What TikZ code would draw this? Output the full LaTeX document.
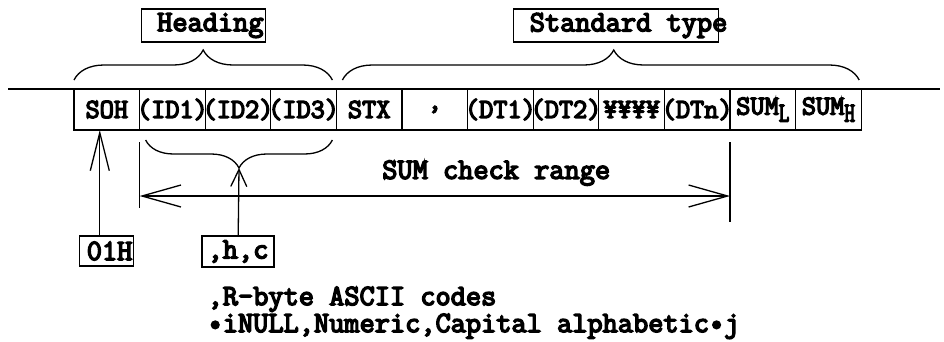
\documentclass[tikz,border=0pt]{standalone}
\usepackage{fontspec}
\newfontfamily\dgfont[FakeBold=5]{Latin Modern Mono}
\usetikzlibrary{arrows.meta, positioning, decorations.pathreplacing}

% cell text may run over the cell walls
\newcommand{\ctext}[1]{\makebox[0pt]{#1}}
\newcommand{\lowsub}[1]{\raisebox{-7pt}{\scalebox{0.75}[1]{#1}}}

\begin{document}
\begin{tikzpicture}[
  x=1pt, y=-1pt, line width=1.3pt,
  cell/.style={rectangle, draw, minimum width=65.6pt, minimum height=41pt,
               inner sep=0pt, outer sep=0pt, font=\dgfont\fontsize{27.5}{27.5}\selectfont},
  tag/.style={rectangle, draw, inner sep=0pt, outer sep=0pt,
              font=\dgfont\fontsize{29.5}{29.5}\selectfont},
  txt/.style={inner sep=0pt, font=\dgfont\fontsize{29.5}{27}\selectfont},
  brc/.style={decorate, decoration={brace, amplitude=#1}},
  arr/.style={-{Straight Barb[length=38pt, width=19pt]}},
  rng/.style={{Straight Barb[length=39pt, width=22pt]}-{Straight Barb[length=39pt, width=22pt]}}
]
  \useasboundingbox (0,0) rectangle (944,341);

  % frame row
  \draw (8,89) -- (940,89);
  \node[cell, anchor=north west] (soh) at (74,89) {\ctext{SOH}};
  \node[cell, right=0pt of soh]  (id1)  {\ctext{(ID1)}};
  \node[cell, right=0pt of id1]  (id2)  {\ctext{(ID2)}};
  \node[cell, right=0pt of id2]  (id3)  {\ctext{(ID3)}};
  \node[cell, right=0pt of id3]  (stx)  {\ctext{STX}};
  \node[cell, right=0pt of stx]  (comma) {\ctext{,}};
  \node[cell, right=0pt of comma] (dt1) {\ctext{(DT1)}};
  \node[cell, right=0pt of dt1]  (dt2)  {\ctext{(DT2)}};
  \node[cell, right=0pt of dt2]  (yen)  {\ctext{¥¥¥¥}};
  \node[cell, right=0pt of yen]  (dtn)  {\ctext{(DTn)}};
  \node[cell, right=0pt of dtn]  (suml) {\ctext{SUM\lowsub{L}}};
  \node[cell, right=0pt of suml] (sumh) {\ctext{SUM\lowsub{H}}};

  % braces above
  \draw[brc=30pt] ([yshift=9pt]soh.north west) -- ([xshift=-4pt,yshift=9pt]id3.north east)
    node[midway, above=38pt, tag, minimum height=33pt] (head)
    {\makebox[124pt][l]{\hspace{16pt}Heading}};
  \draw[brc=30pt, decoration={aspect=0.525}] ([xshift=6pt,yshift=9pt]stx.north west)
    -- ([xshift=-2pt,yshift=9pt]sumh.north east)
    node[pos=0.53, above=38pt, tag, minimum height=33pt] (std)
    {\makebox[205pt][l]{\hspace{16pt}Standard type}};

  % brace below ID1..ID3
  \draw[brc=28pt] ([xshift=-4pt,yshift=-10pt]id3.south east)
    -- ([xshift=6pt,yshift=-10pt]id1.south west) coordinate[midway, yshift=-28pt] (idtip);

  % SUM check range
  \draw ([yshift=-12pt]id1.south west) -- ([yshift=-78pt]id1.south west);
  \draw ([yshift=-12pt]suml.south west) -- ([yshift=-92pt]suml.south west);
  \draw[rng] ([yshift=-66pt]id1.south west) -- ([yshift=-66pt]suml.south west)
    node[pos=0.604, yshift=23pt, txt] (range) {SUM check range};

  % code boxes
  \node[tag, minimum height=30pt, below=106pt of soh] (o1h) {\makebox[54pt][l]{\hspace{7pt}01H}};
  \node[tag, minimum height=31pt, below=106pt of id2] (hc) {\makebox[72pt]{,h,c}};
  \draw[arr] ([xshift=-7pt]o1h.north) -- ([xshift=-7pt]o1h.north |- soh.south);
  \draw[-{Straight Barb[length=17pt, width=16pt]}] (hc) -- (idtip);

  \node[txt, align=left, below=19pt of hc.south west, anchor=north west, xshift=5pt] (note)
    {,R-byte ASCII codes\\•iNULL,Numeric,Capital alphabetic•j};
\end{tikzpicture}
\end{document}
